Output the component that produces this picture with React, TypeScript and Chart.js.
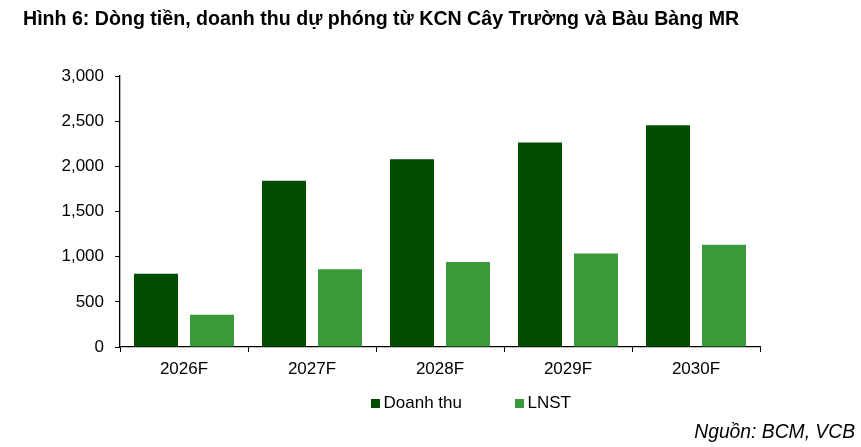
import React, { useEffect, useRef } from "react";
import { Chart, registerables } from "chart.js";

Chart.register(...registerables);

const categories = ["2026F", "2027F", "2028F", "2029F", "2030F"];
const doanhThu = [810, 1840, 2078, 2265, 2455];
const lnst = [357, 862, 940, 1035, 1132];
const seriesNames = ["Doanh thu", "LNST"];
const yTicks = [0, 500, 1000, 1500, 2000, 2500, 3000];

const DARK = "#024d02";
const LIGHT = "#389a38";
const FONT = "'Liberation Sans', Arial, sans-serif";

export default function App() {
  const ref = useRef<HTMLCanvasElement | null>(null);

  useEffect(() => {
    document.body.style.margin = "0";
    const canvas = ref.current;
    if (!canvas) return;
    const chart = new Chart(canvas, {
      type: "bar",
      data: {
        labels: categories,
        datasets: [
          {
            label: seriesNames[0],
            data: doanhThu,
            backgroundColor: DARK,
            borderWidth: 0,
            categoryPercentage: 0.875,
            barPercentage: 0.786,
          },
          {
            label: seriesNames[1],
            data: lnst,
            backgroundColor: LIGHT,
            borderWidth: 0,
            categoryPercentage: 0.875,
            barPercentage: 0.786,
          },
        ],
      },
      options: {
        responsive: false,
        animation: false,
        layout: { padding: { top: 76, right: 101, bottom: 0, left: 0 } },
        plugins: {
          legend: { display: false },
          tooltip: { enabled: false },
          title: { display: false },
        },
        scales: {
          x: {
            grid: {
              display: true,
              drawOnChartArea: false,
              drawTicks: true,
              tickLength: 5,
              color: "#000",
              lineWidth: 1,
              offset: true,
            },
            border: { display: true, color: "#000", width: 1.3 },
            ticks: {
              color: "#000",
              font: { family: FONT, size: 17 },
              padding: 7,
              maxRotation: 0,
            },
            afterFit: (scale: any) => {
              scale.height = 100;
            },
          },
          y: {
            min: 0,
            max: 3000,
            afterBuildTicks: (scale: any) => {
              scale.ticks = yTicks.map((v) => ({ value: v }));
            },
            grid: {
              display: true,
              drawOnChartArea: false,
              drawTicks: true,
              tickLength: 5,
              color: "#000",
              lineWidth: 1,
            },
            border: { display: true, color: "#000", width: 1.3 },
            ticks: {
              color: "#000",
              font: { family: FONT, size: 17 },
              padding: 11,
              callback: (v: any) => Number(v).toLocaleString("en-US"),
            },
            afterFit: (scale: any) => {
              scale.width = 120;
            },
          },
        },
      },
    });
    return () => chart.destroy();
  }, []);

  const text: React.CSSProperties = {
    position: "absolute",
    fontFamily: FONT,
    color: "#000",
    whiteSpace: "nowrap",
  };

  return (
    <div style={{ position: "relative", width: 861, height: 447, background: "#fff", overflow: "hidden" }}>
      <canvas ref={ref} width={861} height={447} style={{ position: "absolute", left: 0, top: 0 }} />
      <div style={{ ...text, left: 23, top: 9.1, fontSize: 19.6, lineHeight: "19.6px", fontWeight: "bold" }}>
        Hình 6: Dòng tiền, doanh thu dự phóng từ KCN Cây Trường và Bàu Bàng MR
      </div>
      <div style={{ ...text, left: 371, top: 398.5, width: 9, height: 9, background: DARK }} />
      <div style={{ ...text, left: 383.5, top: 394.3, fontSize: 17, lineHeight: "17px" }}>{seriesNames[0]}</div>
      <div style={{ ...text, left: 515, top: 398.5, width: 9, height: 9, background: LIGHT }} />
      <div style={{ ...text, left: 527.5, top: 394.3, fontSize: 17, lineHeight: "17px" }}>{seriesNames[1]}</div>
      <div style={{ ...text, right: 6, top: 422, fontSize: 19.3, lineHeight: "19.3px", fontStyle: "italic" }}>
        Nguồn: BCM, VCB
      </div>
    </div>
  );
}
